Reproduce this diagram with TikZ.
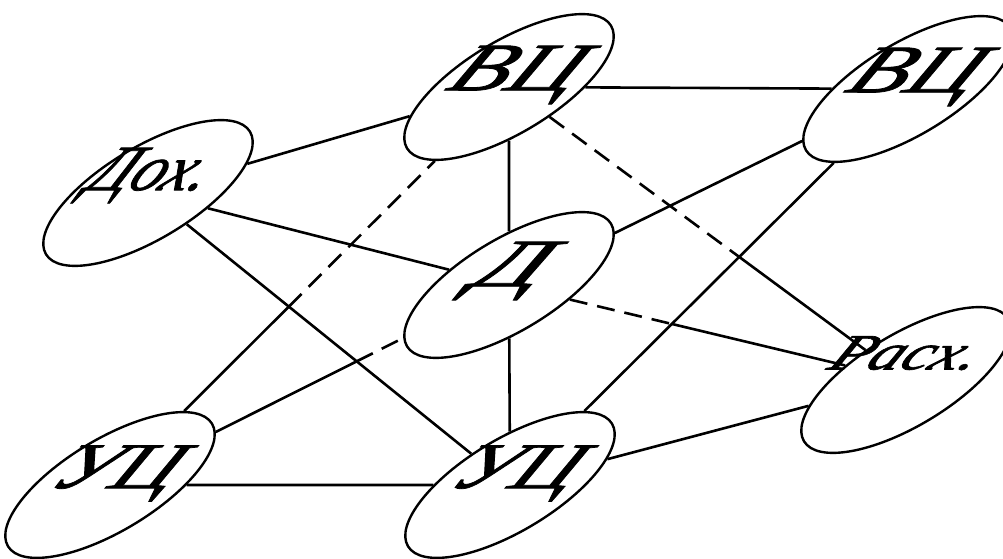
\documentclass[tikz,border=0pt]{standalone}
\usepackage{fontspec}
\setmainfont{Liberation Serif}
\usetikzlibrary{shapes.geometric}
\begin{document}
\begin{tikzpicture}[x=1pt,y=1pt,
  ov/.style={draw, line width=2.4pt, ellipse, minimum width=238pt, minimum height=92pt, inner sep=0pt, rotate=31, fill=white},
  lbl/.style={font=\fontsize{68}{68}\selectfont\itshape\addfontfeature{FakeBold=1.2}, inner sep=0pt, text height=0.66em, text depth=0pt, xslant=0.6, xscale=1.4},
  edge/.style={line width=2.6pt},
  hid/.style={line width=2.6pt, dash pattern=on 18pt off 10pt}]
\useasboundingbox[fill=white] (0,0) rectangle (1003,559);
% ellipses
\node[ov] (vcm) at (509,472) {};
\node[ov] (vcp) at (908,470) {};
\node[ov] (dox) at (148,366) {};
\node[ov] (d) at (509,274) {};
\node[ov] (rash) at (906,179) {};
\node[ov] (ucl) at (110,74) {};
\node[ov] (ucm) at (510,74) {};
% crossing points where hidden edges change style
\coordinate (x1) at (intersection of vcm--rash and vcp--ucm);
\coordinate (x2) at (intersection of d--rash and vcp--ucm);
\coordinate (x3) at (intersection of ucl--d and dox--ucm);
\coordinate (x4) at (intersection of ucl--vcm and dox--ucm);
% solid edges
\draw[edge] (dox) -- (vcm);
\draw[edge] (dox) -- (d);
\draw[edge] (dox) -- (ucm);
\draw[edge] (vcm) -- (vcp);
\draw[edge] (vcm) -- (d);
\draw[edge] (d) -- (ucm);
\draw[edge] (vcp) -- (d);
\draw[edge] (vcp) -- (ucm);
\draw[edge] (rash) -- (ucm);
\draw[edge] (ucl) -- (ucm);
% partly hidden edges
\draw[hid] (vcm) -- (x1);
\draw[edge] (x1) -- (rash);
\draw[hid] (d) -- (x2);
\draw[edge] (x2) -- (rash);
\draw[edge] (ucl) -- (x3);
\draw[hid] (x3) -- (d);
\draw[edge] (ucl) -- (x4);
\draw[hid] (x4) -- (vcm);
% labels
\node[lbl] (tvcm) at (vcm) {ВЦ};
\node[lbl] (tvcp) at (vcp) {ВЦ};
\node[lbl, xscale=0.68, yscale=0.95] (tdox) at ([shift={(-4,6)}]dox.center) {Дох.};
\node[lbl, xscale=1.12] (td) at ([shift={(-4,2)}]d.center) {Д};
\node[lbl, yscale=0.75, xscale=0.7] (trash) at ([shift={(-6,13)}]rash.center) {Расх.};
\node[lbl, yscale=0.96, xscale=0.92] (tucl) at (ucl) {УЦ};
\node[lbl, yscale=0.96, xscale=0.92] (tucm) at (ucm) {УЦ};
\end{tikzpicture}
\end{document}
